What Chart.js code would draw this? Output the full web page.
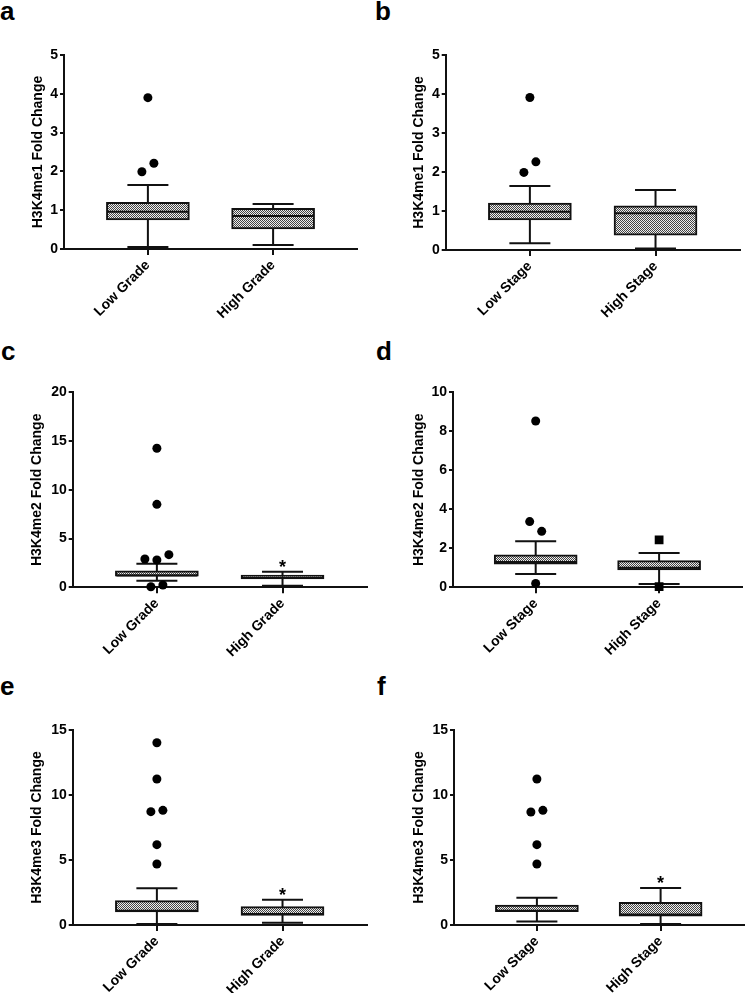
<!DOCTYPE html>
<html>
<head>
<meta charset="utf-8">
<script src="https://cdn.jsdelivr.net/npm/chart.js@4.4.1/dist/chart.umd.min.js"></script>
<style>
  body { margin: 0; background: #fff; width: 748px; height: 993px; position: relative; overflow: hidden; }
  canvas { position: absolute; }
  .letter { position: absolute; font: bold 26px "Liberation Sans", Arial, sans-serif; line-height: 26px; color: #000; }
</style>
</head>
<body>
<div class="letter" style="left:0;top:-2px">a</div>
<div class="letter" style="left:375px;top:-2px">b</div>
<div class="letter" style="left:1px;top:338px">c</div>
<div class="letter" style="left:376px;top:338px">d</div>
<div class="letter" style="left:0;top:673px">e</div>
<div class="letter" style="left:377px;top:673px">f</div>
<canvas id="pa" width="374" height="330" style="left:0;top:0"></canvas>
<canvas id="pb" width="374" height="330" style="left:374px;top:0"></canvas>
<canvas id="pc" width="374" height="330" style="left:0;top:330px"></canvas>
<canvas id="pd" width="374" height="330" style="left:374px;top:330px"></canvas>
<canvas id="pe" width="374" height="333" style="left:0;top:660px"></canvas>
<canvas id="pf" width="374" height="333" style="left:374px;top:660px"></canvas>
<script>
/* six box-and-whisker panels: H3K4me1/2/3 fold change by tumour grade and stage */

const gradeLabels = ["Low Grade", "High Grade"];
const stageLabels = ["Low Stage", "High Stage"];

// per group: [lower whisker, Q1, median, Q3, upper whisker]
const me1GradeBox = [[0.05, 0.75, 0.96, 1.20, 1.65], [0.10, 0.52, 0.85, 1.05, 1.16]];
const me1GradeOut = [[3.90, 1.99, 2.21], []];
const me1StageBox = [[0.17, 0.77, 0.98, 1.20, 1.64], [0.04, 0.38, 0.94, 1.13, 1.54]];
const me1StageOut = [[3.91, 1.99, 2.26], []];

const me2GradeBox = [[0.68, 1.13, 1.20, 1.70, 2.42], [0.17, 0.85, 0.95, 1.26, 1.60]];
const me2GradeOut = [[14.26, 8.51, 2.90, 2.80, 3.35, 0.06, 0.24], []];
const me2StageBox = [[0.68, 1.18, 1.30, 1.66, 2.36], [0.17, 0.89, 1.00, 1.37, 1.76]];
const me2StageOut = [[8.53, 3.37, 2.87, 0.20], [2.43, 0.03]];

const me3GradeBox = [[0.08, 1.00, 1.10, 1.87, 2.82], [0.18, 0.74, 0.85, 1.41, 1.95]];
const me3GradeOut = [[14.02, 11.23, 8.72, 8.82, 6.18, 4.69], []];
const me3StageBox = [[0.26, 1.03, 1.10, 1.54, 2.10], [0.08, 0.67, 0.80, 1.74, 2.85]];
const me3StageOut = [[11.23, 8.69, 8.82, 6.18, 4.69], []];

// which group carries the "*" mark
const me2GradeSig = [false, true];
const me3GradeSig = [false, true];
const me3StageSig = [false, true];

const INK = "#111";
const FONT = "'Liberation Sans', Arial, sans-serif";

function boxPattern() {
  const c = document.createElement("canvas");
  c.width = 2; c.height = 2;
  const g = c.getContext("2d");
  g.fillStyle = "#eeeeee"; g.fillRect(0, 0, 2, 2);
  g.fillStyle = "#444444"; g.fillRect(0, 0, 1, 1); g.fillRect(1, 1, 1, 1);
  return g.createPattern(c, "repeat");
}

const boxPlot = {
  id: "boxPlot",
  afterDatasetsUpdate(chart) {
    // spread outliers sitting at about the same height side by side
    const ds = chart.data.datasets[1];
    const groups = {};
    chart.getDatasetMeta(1).data.forEach((pt, i) => {
      const g = ds.data[i].x;
      (groups[g] = groups[g] || []).push(pt);
    });
    Object.values(groups).forEach((pts) => {
      const clusters = [];
      pts.forEach((p) => {
        const c = clusters.find((c) => Math.abs(c[0].y - p.y) < 11);
        c ? c.push(p) : clusters.push([p]);
      });
      clusters.forEach((c) => c.forEach((p, i) => { p.x += (i - (c.length - 1) / 2) * 12; }));
    });
  },
  beforeDatasetsDraw(chart, args, opts) {
    const { ctx, scales: { x, y } } = chart;
    ctx.save();
    ctx.strokeStyle = INK; ctx.lineWidth = 2;
    opts.boxes.forEach((b, i) => {
      const cx = x.getPixelForValue(i);
      const lo = y.getPixelForValue(b[0]), hi = y.getPixelForValue(b[4]);
      ctx.beginPath();
      ctx.moveTo(cx, lo); ctx.lineTo(cx, hi);
      ctx.moveTo(cx - 20.5, lo); ctx.lineTo(cx + 20.5, lo);
      ctx.moveTo(cx - 20.5, hi); ctx.lineTo(cx + 20.5, hi);
      ctx.stroke();
    });
    ctx.restore();
  },
  afterDatasetsDraw(chart, args, opts) {
    const { ctx, scales: { x, y } } = chart;
    ctx.save();
    ctx.strokeStyle = INK; ctx.fillStyle = "#000"; ctx.lineWidth = 2;
    opts.boxes.forEach((b, i) => {
      const cx = x.getPixelForValue(i);
      const m = y.getPixelForValue(b[2]);
      ctx.beginPath(); ctx.moveTo(cx - 40.5, m); ctx.lineTo(cx + 40.5, m); ctx.stroke();
    });
    if (opts.sig) {
      ctx.font = `bold 18px ${FONT}`; ctx.textAlign = "center"; ctx.textBaseline = "alphabetic";
      opts.boxes.forEach((b, i) => {
        if (opts.sig[i]) ctx.fillText("*", x.getPixelForValue(i), y.getPixelForValue(b[4]) + 1);
      });
    }
    ctx.restore();
  },
};

function makePanel(id, labels, boxes, outliers, opt) {
  const canvas = document.getElementById(id);
  const H = canvas.height;
  const pl = opt.titleX - 8.4;
  const points = [];
  outliers.forEach((vals, g) => vals.forEach((v) => points.push({ x: g, y: v })));
  const styles = opt.styles || ["circle", "circle"];

  new Chart(canvas, {
    type: "bar",
    data: {
      datasets: [
        {
          type: "bar",
          data: boxes.map((b, i) => ({ x: i, y: [b[1], b[3]] })),
          backgroundColor: boxPattern(),
          borderColor: INK, borderWidth: 2, borderSkipped: false,
          barThickness: 83, clip: 6, order: 1,
        },
        {
          type: "scatter",
          data: points,
          pointStyle: points.map((p) => styles[p.x]),
          pointRadius: points.map((p) => (styles[p.x] === "rect" ? 6.2 : 4.5)),
          pointBackgroundColor: "#000", pointBorderWidth: 0,
          clip: 8, order: 0,
        },
      ],
    },
    options: {
      responsive: false, animation: false, events: [],
      layout: { padding: { left: pl, top: opt.top, right: canvas.width - opt.right, bottom: 0 } },
      plugins: { legend: { display: false }, tooltip: { enabled: false }, boxPlot: { boxes, sig: opt.sig } },
      scales: {
        x: {
          type: "linear", min: -0.67, max: 1.67, offset: false,
          afterBuildTicks: (s) => { s.ticks = labels.map((_, i) => ({ value: i })); },
          afterFit: (s) => { s.height = H - opt.bottom; },
          grid: { offset: false, drawOnChartArea: false, tickLength: 6, lineWidth: 2, color: INK },
          border: { color: INK, width: 2 },
          ticks: {
            autoSkip: false, minRotation: 45, maxRotation: 45, padding: 2,
            color: "#000", font: { family: FONT, size: 14, weight: "bold" },
            callback: (v) => labels[v],
          },
        },
        y: {
          min: 0, max: opt.yMax,
          afterFit: (s) => { s.width = opt.left - pl; },
          grid: { drawOnChartArea: false, tickLength: 4, lineWidth: 2, color: INK },
          border: { color: INK, width: 2 },
          ticks: { stepSize: opt.yStep, padding: 2, color: "#000", font: { family: FONT, size: 14, weight: "bold" } },
          title: { display: true, text: opt.yTitle, padding: 0, color: "#000", font: { family: FONT, size: 14, weight: "bold" } },
        },
      },
    },
    plugins: [boxPlot],
  });
}

makePanel("pa", gradeLabels, me1GradeBox, me1GradeOut,
  { yMax: 5, yStep: 1, yTitle: "H3K4me1 Fold Change", titleX: 38, left: 64, top: 55, right: 357, bottom: 249 });
makePanel("pb", stageLabels, me1StageBox, me1StageOut,
  { yMax: 5, yStep: 1, yTitle: "H3K4me1 Fold Change", titleX: 45.3, left: 71.7, top: 55, right: 365.7, bottom: 250 });
makePanel("pc", gradeLabels, me2GradeBox, me2GradeOut,
  { yMax: 20, yStep: 5, yTitle: "H3K4me2 Fold Change", titleX: 37.5, left: 72.7, top: 62.3, right: 366.7, bottom: 257.3, sig: me2GradeSig });
makePanel("pd", stageLabels, me2StageBox, me2StageOut,
  { yMax: 10, yStep: 2, yTitle: "H3K4me2 Fold Change", titleX: 44.7, left: 79, top: 62.3, right: 373.3, bottom: 257.3, styles: ["circle", "rect"] });
makePanel("pe", gradeLabels, me3GradeBox, me3GradeOut,
  { yMax: 15, yStep: 5, yTitle: "H3K4me3 Fold Change", titleX: 37.5, left: 72.7, top: 70, right: 366.7, bottom: 265, sig: me3GradeSig });
makePanel("pf", stageLabels, me3StageBox, me3StageOut,
  { yMax: 15, yStep: 5, yTitle: "H3K4me3 Fold Change", titleX: 45, left: 80, top: 70, right: 373.3, bottom: 265, sig: me3StageSig });
</script>
</body>
</html>
